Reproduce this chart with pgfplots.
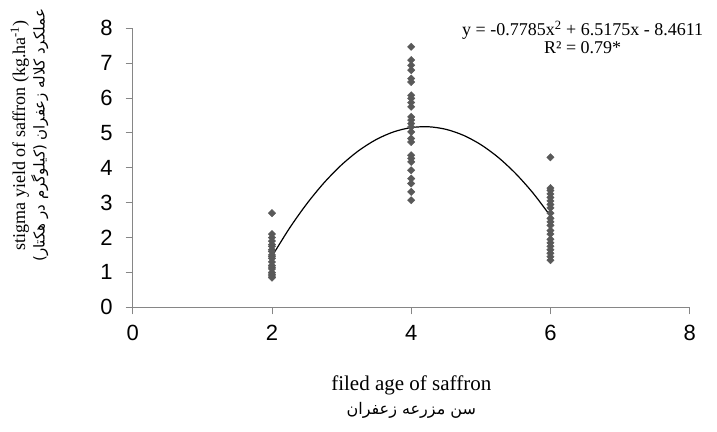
\documentclass[border=0pt]{standalone}
\usepackage{pgfplots}
\pgfplotsset{compat=1.18}
\usepackage{fontspec}
\setmainfont{Liberation Serif}
\newfontfamily\arialfont{Liberation Sans}
\newfontfamily\arabicfont[Script=Arabic]{DejaVu Sans}
\TeXXeTstate=1
\definecolor{axisgray}{RGB}{134,134,134}
\definecolor{markgray}{RGB}{89,89,89}
\pgfplotstableread{
x y
2 2.70
2 2.10
2 2.00
2 1.90
2 1.80
2 1.75
2 1.65
2 1.60
2 1.50
2 1.45
2 1.40
2 1.30
2 1.20
2 1.15
2 1.10
2 1.00
2 0.95
2 0.90
2 0.85
4 7.47
4 7.09
4 6.94
4 6.80
4 6.56
4 6.46
4 6.08
4 5.99
4 5.87
4 5.75
4 5.46
4 5.37
4 5.27
4 5.17
4 5.03
4 4.84
4 4.74
4 4.36
4 4.27
4 4.17
4 3.93
4 3.69
4 3.55
4 3.31
4 3.07
6 4.30
6 3.42
6 3.35
6 3.25
6 3.15
6 3.05
6 2.95
6 2.85
6 2.70
6 2.55
6 2.45
6 2.35
6 2.20
6 2.10
6 1.95
6 1.85
6 1.75
6 1.65
6 1.55
6 1.45
6 1.35
}\yielddata
\begin{document}
\begin{tikzpicture}
\useasboundingbox (-132.7bp,-124.7bp) rectangle (584.3bp,307.3bp);
\begin{axis}[
  scale only axis, width=557bp, height=279bp,
  xmin=0, xmax=8, ymin=0, ymax=8,
  xtick={0,2,...,8}, ytick={0,1,...,8},
  axis x line=bottom, axis y line=left,
  axis line style={-, axisgray, line width=0.9bp},
  tick style={axisgray, line width=0.9bp},
  tick align=outside, major tick length=7bp,
  /pgf/number format/assume math mode=true,
  tick label style={font=\arialfont\fontsize{22bp}{26bp}\selectfont, inner sep=0pt, black},
  yticklabel style={xshift=-13bp},
  xticklabel style={yshift=-11bp},
]
\addplot[black, line width=1.2bp, smooth, no marks] coordinates {
(2,1.4599) (2.25,2.2621) (2.5,2.9671) (2.75,3.5746) (3,4.0849) (3.25,4.4979)
(3.5,4.8136) (3.75,5.0318) (4,5.1529) (4.25,5.1766) (4.5,5.1031) (4.75,4.9321)
(5,4.6639) (5.25,4.2984) (5.5,3.8356) (5.75,3.2753) (6,2.6179)};
\addplot[only marks, mark=square*, mark size=2.6bp, mark options={rotate=45, fill=markgray, draw=markgray}] table[x=x,y=y] {\yielddata};
\end{axis}
\node[align=center, font=\fontsize{18bp}{18bp}\selectfont] at (450bp,270bp) {y = -0.7785x\textsuperscript{2} + 6.5175x - 8.4611\\R² = 0.79*};
\node[rotate=90, font=\fontsize{18bp}{20bp}\selectfont] at (-113bp,172bp) {stigma yield of saffron (kg.ha\textsuperscript{-1})};
\node[rotate=90, font=\arabicfont\fontsize{15bp}{18bp}\selectfont] at (-93bp,172bp) {\beginR عملکرد کلاله زعفران (کیلوگرم در هکتار)\endR};
\node[font=\fontsize{21bp}{24bp}\selectfont] at (278.6bp,-78bp) {filed age of saffron};
\node[font=\arabicfont\fontsize{16bp}{18bp}\selectfont] at (278.6bp,-103bp) {\beginR سن مزرعه زعفران\endR};
\end{tikzpicture}
\end{document}
